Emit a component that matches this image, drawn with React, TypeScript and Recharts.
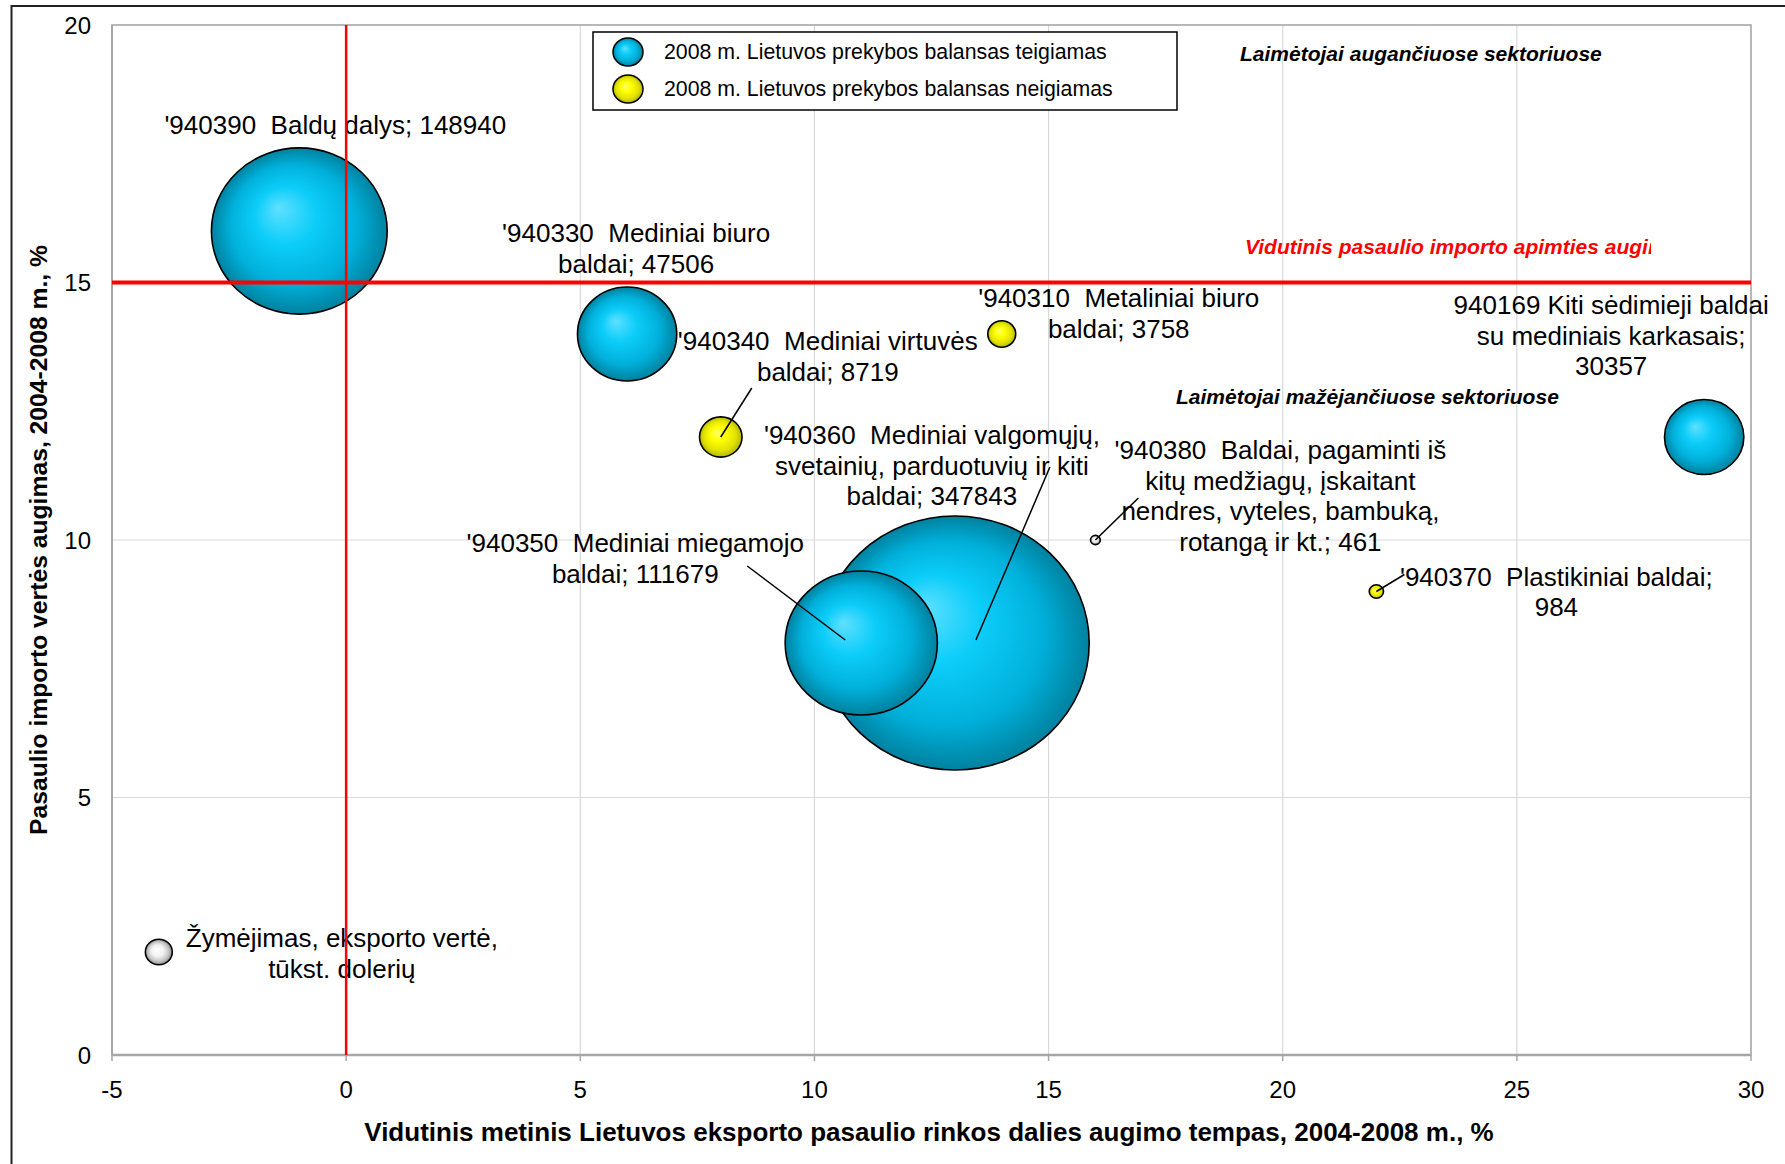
import React from 'react';
import { ScatterChart, Scatter, XAxis, YAxis, ZAxis, CartesianGrid, ReferenceLine, ReferenceArea } from 'recharts';

const FONT = "'Liberation Sans', Arial, sans-serif";
const LINE_H = 30.5;

const xTicks = [-5, 0, 5, 10, 15, 20, 25, 30];
const yTicks = [0, 5, 10, 15, 20];

// 2008 m. Lietuvos prekybos balansas teigiamas
const positiveCodes = ['940390', '940330', '940360', '940350', '940169'];
const positiveShareGrowth = [-1, 6, 13, 11, 29];
const positiveImportGrowth = [16, 14, 8, 8, 12];
const positiveExport = [148940, 47506, 347843, 111679, 30357];
const positiveLabels = [
  ["'940390  Baldų dalys; 148940"],
  ["'940330  Mediniai biuro", 'baldai; 47506'],
  ["'940360  Mediniai valgomųjų,", 'svetainių, parduotuvių ir kiti', 'baldai; 347843'],
  ["'940350  Mediniai miegamojo", 'baldai; 111679'],
  ['940169 Kiti sėdimieji baldai', 'su mediniais karkasais;', '30357'],
];

// 2008 m. Lietuvos prekybos balansas neigiamas
const negativeCodes = ['940340', '940310', '940370'];
const negativeShareGrowth = [8, 14, 22];
const negativeImportGrowth = [12, 14, 9];
const negativeExport = [8719, 3758, 984];
const negativeLabels = [
  ["'940340  Mediniai virtuvės", 'baldai; 8719'],
  ["'940310  Metaliniai biuro", 'baldai; 3758'],
  ["'940370  Plastikiniai baldai;", '984'],
];

// kiti: mažas taškas ir žymėjimo pavyzdys
const otherCodes = ['940380', 'key'];
const otherShareGrowth = [16, -4];
const otherImportGrowth = [10, 2];
const otherExport = [461, 3500];
const otherLabels = [
  ["'940380  Baldai, pagaminti iš", 'kitų medžiagų, įskaitant', 'nendres, vyteles, bambuką,', 'rotangą ir kt.; 461'],
  ['Žymėjimas, eksporto vertė,', 'tūkst. dolerių'],
];

const legendItems = [
  { text: '2008 m. Lietuvos prekybos balansas teigiamas', fill: 'url(#bubbleBlue)' },
  { text: '2008 m. Lietuvos prekybos balansas neigiamas', fill: 'url(#bubbleYellow)' },
];

// label placement relative to bubble centre (px)
const LABEL_POS: Record<string, { dx: number; dy: number; leader?: number[] }> = {
  '940390': { dx: 36, dy: -106 },
  '940330': { dx: 9, dy: -101 },
  '940360': { dx: -23, dy: -208, leader: [21, -3, 95, -176] },
  '940350': { dx: -226, dy: -100, leader: [-16, -3, -114, -77] },
  '940169': { dx: -93, dy: -132 },
  '940340': { dx: 107, dy: -96, leader: [0, 0, 31, -49] },
  '940310': { dx: 117, dy: -36 },
  '940370': { dx: 180, dy: -15, leader: [0, 0, 28, -17] },
  '940380': { dx: 185, dy: -90, leader: [0, 0, 43, -42] },
  key: { dx: 183, dy: -14 },
};

const build = (codes: string[], xs: number[], ys: number[], zs: number[], labels: string[][]) =>
  codes.map((code, i) => ({ code, x: xs[i], y: ys[i], z: zs[i], lines: labels[i] }));

const positiveData = build(positiveCodes, positiveShareGrowth, positiveImportGrowth, positiveExport, positiveLabels);
const negativeData = build(negativeCodes, negativeShareGrowth, negativeImportGrowth, negativeExport, negativeLabels);
const otherData = build(otherCodes, otherShareGrowth, otherImportGrowth, otherExport, otherLabels);

const makeBubble = (fill: string) => (props: any) => {
  const { cx, cy, width, payload } = props;
  if (cx == null || cy == null) return <g />;
  const rx = width / 2;
  const ry = rx * 0.946;
  const pos = LABEL_POS[payload.code];
  return (
    <g>
      <ellipse cx={cx} cy={cy} rx={rx} ry={ry} fill={fill} stroke="#000" strokeWidth={1.6} />
      {pos.leader && (
        <line
          x1={cx + pos.leader[0]}
          y1={cy + pos.leader[1]}
          x2={cx + pos.leader[2]}
          y2={cy + pos.leader[3]}
          stroke="#000"
          strokeWidth={1.5}
        />
      )}
      {payload.lines.map((t: string, i: number) => (
        <text
          key={i}
          x={cx + pos.dx}
          y={cy + pos.dy + i * LINE_H}
          textAnchor="middle"
          dominantBaseline="central"
          fontSize={26}
          fontFamily={FONT}
          fill="#000"
          style={{ whiteSpace: 'pre' }}
        >
          {t}
        </text>
      ))}
    </g>
  );
};

const Gradients = () => (
  <svg width={0} height={0} style={{ position: 'absolute' }}>
    <defs>
      <radialGradient id="bubbleBlue" cx="0.5" cy="0.5" r="0.5" fx="0.38" fy="0.36">
        <stop offset="0" stopColor="#5fe0ff" />
        <stop offset="0.35" stopColor="#0ccdf9" />
        <stop offset="0.72" stopColor="#00b0da" />
        <stop offset="1" stopColor="#00819f" />
      </radialGradient>
      <radialGradient id="bubbleYellow" cx="0.5" cy="0.5" r="0.5" fx="0.4" fy="0.38">
        <stop offset="0" stopColor="#ffff70" />
        <stop offset="0.35" stopColor="#ffff00" />
        <stop offset="0.75" stopColor="#e2e200" />
        <stop offset="1" stopColor="#b4b400" />
      </radialGradient>
      <radialGradient id="bubbleGray" cx="0.5" cy="0.5" r="0.5" fx="0.42" fy="0.42">
        <stop offset="0" stopColor="#ffffff" />
        <stop offset="0.45" stopColor="#f2f2f2" />
        <stop offset="0.75" stopColor="#c8c8c8" />
        <stop offset="1" stopColor="#8c8c8c" />
      </radialGradient>
    </defs>
  </svg>
);

const Overlay = () => (
  <svg width={1785} height={1164} style={{ position: 'absolute', left: 0, top: 0, pointerEvents: 'none' }}>
    <defs>
      <clipPath id="redClip">
        <rect x={0} y={0} width={1651} height={1164} />
      </clipPath>
    </defs>
    <path d="M11.5 1200 V6 H1800" fill="none" stroke="#222" strokeWidth={2} />

    <rect x={593} y={32} width={584} height={78} fill="#fff" stroke="#000" strokeWidth={1.5} />
    {legendItems.map((it, i) => (
      <g key={i}>
        <ellipse cx={628} cy={52 + i * 37} rx={15} ry={14} fill={it.fill} stroke="#000" strokeWidth={1.5} />
        <text x={664} y={52 + i * 37} dominantBaseline="central" fontSize={21.3} fontFamily={FONT} fill="#000">
          {it.text}
        </text>
      </g>
    ))}

    <text x={1240} y={53} dominantBaseline="central" fontSize={21} fontWeight="bold" fontStyle="italic" fontFamily={FONT} fill="#000">
      Laimėtojai augančiuose sektoriuose
    </text>
    <text x={1176} y={396} dominantBaseline="central" fontSize={21} fontWeight="bold" fontStyle="italic" fontFamily={FONT} fill="#000">
      Laimėtojai mažėjančiuose sektoriuose
    </text>
    <text x={1245} y={246} clipPath="url(#redClip)" dominantBaseline="central" fontSize={21} fontWeight="bold" fontStyle="italic" fontFamily={FONT} fill="#ff0000">
      Vidutinis pasaulio importo apimties augimas
    </text>

    <text x={929} y={1132} textAnchor="middle" dominantBaseline="central" fontSize={26} fontWeight="bold" fontFamily={FONT} fill="#000">
      Vidutinis metinis Lietuvos eksporto pasaulio rinkos dalies augimo tempas, 2004-2008 m., %
    </text>
    <text
      x={38}
      y={540}
      transform="rotate(-90 38 540)"
      textAnchor="middle"
      dominantBaseline="central"
      fontSize={24.7}
      fontWeight="bold"
      fontFamily={FONT}
      fill="#000"
    >
      Pasaulio importo vertės augimas, 2004-2008 m., %
    </text>
  </svg>
);

const App: React.FC = () => (
  <div style={{ position: 'absolute', left: 0, top: 0, width: 1785, height: 1164, background: '#fff', overflow: 'hidden' }}>
    <Gradients />
    <ScatterChart width={1785} height={1164} margin={{ top: 25, right: 34, bottom: 0, left: 0 }}>
      <CartesianGrid stroke="#d9d9d9" strokeWidth={1.2} />
      <XAxis
        type="number"
        dataKey="x"
        domain={[-5, 30]}
        ticks={xTicks}
        height={109}
        axisLine={{ stroke: '#a6a6a6', strokeWidth: 2.5 }}
        tickLine={{ stroke: '#a6a6a6', strokeWidth: 1.5 }}
        tickSize={6}
        tickMargin={20}
        tick={{ fill: '#000', fontSize: 24, fontFamily: FONT }}
      />
      <YAxis
        type="number"
        dataKey="y"
        domain={[0, 20]}
        ticks={yTicks}
        width={112}
        axisLine={{ stroke: '#a0a0a0', strokeWidth: 1.5 }}
        tickLine={false}
        tickSize={0}
        tickMargin={21}
        tick={{ fill: '#000', fontSize: 24, fontFamily: FONT }}
      />
      <ZAxis type="number" dataKey="z" domain={[0, 347843]} range={[0, 56665]} />
      <ReferenceArea x1={-5} x2={30} y1={0} y2={20} fill="none" stroke="#a6a6a6" strokeWidth={1.5} />
      <Scatter data={positiveData} shape={makeBubble('url(#bubbleBlue)')} isAnimationActive={false} />
      <Scatter data={negativeData} shape={makeBubble('url(#bubbleYellow)')} isAnimationActive={false} />
      <Scatter data={otherData} shape={makeBubble('url(#bubbleGray)')} isAnimationActive={false} />
      <ReferenceLine x={0} stroke="#ff0000" strokeWidth={2.5} zIndex={700} />
      <ReferenceLine y={15} stroke="#ff0000" strokeWidth={4} zIndex={700} />
    </ScatterChart>
    <Overlay />
  </div>
);

export default App;
